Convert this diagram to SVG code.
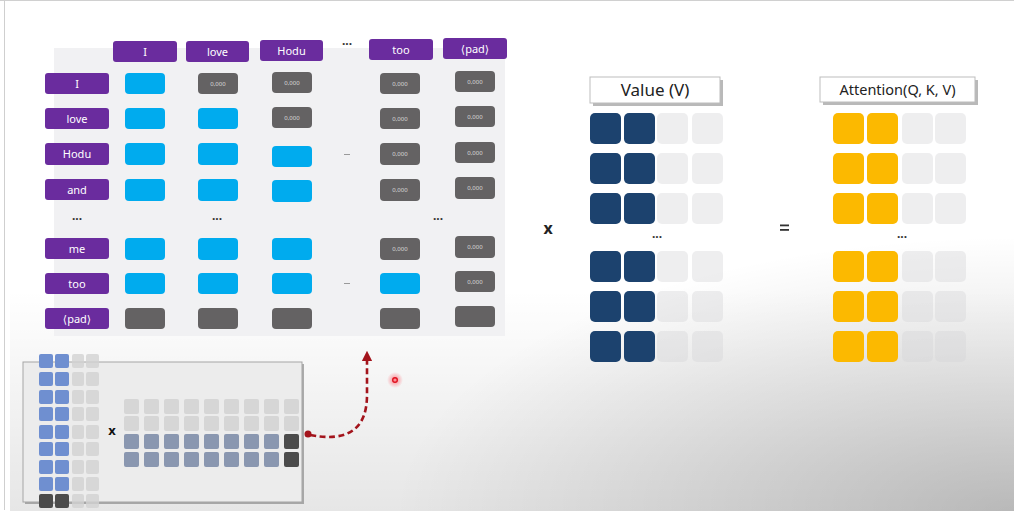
<svg xmlns="http://www.w3.org/2000/svg" width="1014" height="515" viewBox="0 0 1014 515">
<defs>
<style>
.lbl{fill:#6a2c9e}
.lt{font-family:"Noto Sans","DejaVu Sans",sans-serif;font-size:11px;fill:#fff;text-anchor:middle}
.bl{fill:#00abee}
.gy{fill:#646263}
.gt{font-family:"Noto Sans","DejaVu Sans",sans-serif;font-size:6px;fill:#d8d8d8;text-anchor:middle}
.dots{font-family:"Noto Sans","DejaVu Sans",sans-serif;font-size:12px;font-weight:bold;fill:#333;text-anchor:middle}
.dash{stroke:#9a9a9a;stroke-width:1}
.nv{fill:#1c426e}
.go{fill:#fcb900}
.lg{fill:#d4d4d8;fill-opacity:0.4}
.ttl{font-family:"Noto Sans","DejaVu Sans",sans-serif;fill:#222;text-anchor:middle}
.ib{fill:#6f8fd0}
.ig{fill:#d2d2d2;fill-opacity:0.8}
.ir{fill:#d6d6d6}
.ibg{fill:#8a97b0}
.idk{fill:#4b4b4b}
</style>
<radialGradient id="rg" gradientUnits="userSpaceOnUse" cx="1014" cy="515" r="620" gradientTransform="translate(1014 515) scale(1 0.45) translate(-1014 -515)">
<stop offset="0" stop-color="#000" stop-opacity="0.2"/>
<stop offset="1" stop-color="#000" stop-opacity="0"/>
</radialGradient>
<linearGradient id="vg" x1="0" y1="290" x2="0" y2="515" gradientUnits="userSpaceOnUse">
<stop offset="0" stop-color="#000" stop-opacity="0"/>
<stop offset="1" stop-color="#000" stop-opacity="0.1"/>
</linearGradient>
<radialGradient id="glow">
<stop offset="0" stop-color="#ff3b4a" stop-opacity="0.6"/>
<stop offset="1" stop-color="#ff3b4a" stop-opacity="0"/>
</radialGradient>
<marker id="ah" viewBox="0 0 10 10" refX="5" refY="5" markerWidth="4" markerHeight="4" orient="auto">
<path d="M0,0 L10,5 L0,10 Z" fill="#a3141c"/>
</marker>
</defs>

<g id="background">
<rect width="1014" height="515" fill="#fff"/>
<rect x="10" y="2" width="1004" height="509" fill="url(#vg)"/>
<rect x="10" y="2" width="1004" height="509" fill="url(#rg)"/>
<line x1="0" y1="0.5" x2="1014" y2="0.5" stroke="#d0d0d0"/>
<line x1="4.5" y1="0" x2="4.5" y2="510" stroke="#cfcfcf"/>
</g>

<g id="score-matrix">
<rect x="54" y="48" width="451" height="288" fill="#f1f1f3"/>
</g>

<g id="col-headers">
<g id="h-I"><rect class="lbl" x="113" y="41" width="64" height="21" rx="3"/><text class="lt" x="145" y="55.5">I</text></g>
<g id="h-love"><rect class="lbl" x="186" y="41" width="63" height="21" rx="3"/><text class="lt" x="217.5" y="55.5">love</text></g>
<g id="h-Hodu"><rect class="lbl" x="260" y="40" width="63" height="21" rx="3"/><text class="lt" x="291.5" y="54.5">Hodu</text></g>
<text class="dots" x="347" y="48">···</text>
<g id="h-too"><rect class="lbl" x="369" y="39" width="64" height="21" rx="3"/><text class="lt" x="401" y="53.5">too</text></g>
<g id="h-pad"><rect class="lbl" x="443" y="38" width="64" height="21" rx="3"/><text class="lt" x="475" y="52.5">⟨pad⟩</text></g>
</g>

<g id="row-labels">
<g id="r-I"><rect class="lbl" x="45" y="73" width="64" height="21" rx="3"/><text class="lt" x="77" y="87.5">I</text></g>
<g id="r-love"><rect class="lbl" x="45" y="108" width="64" height="21" rx="3"/><text class="lt" x="77" y="122.5">love</text></g>
<g id="r-Hodu"><rect class="lbl" x="45" y="143" width="64" height="22" rx="3"/><text class="lt" x="77" y="158">Hodu</text></g>
<g id="r-and"><rect class="lbl" x="45" y="179" width="64" height="21" rx="3"/><text class="lt" x="77" y="193.5">and</text></g>
<text class="dots" x="77" y="223">···</text>
<g id="r-me"><rect class="lbl" x="45" y="238" width="64" height="21" rx="3"/><text class="lt" x="77" y="252.5">me</text></g>
<g id="r-too"><rect class="lbl" x="45" y="273" width="64" height="21" rx="3"/><text class="lt" x="77" y="287.5">too</text></g>
<g id="r-pad"><rect class="lbl" x="45" y="308" width="64" height="21" rx="3"/><text class="lt" x="77" y="322.5">⟨pad⟩</text></g>
</g>

<g id="cells">
<rect class="bl" x="125" y="73" width="40" height="21" rx="4"/>
<rect class="gy" x="198" y="73" width="40" height="21" rx="4"/><text class="gt" x="218" y="86">0,000</text>
<rect class="gy" x="272" y="72" width="40" height="21" rx="4"/><text class="gt" x="292" y="85">0,000</text>
<rect class="gy" x="380" y="73" width="40" height="21" rx="4"/><text class="gt" x="400" y="86">0,000</text>
<rect class="gy" x="455" y="71" width="40" height="21" rx="4"/><text class="gt" x="475" y="84">0,000</text>
<rect class="bl" x="125" y="108" width="40" height="21" rx="4"/>
<rect class="bl" x="198" y="108" width="40" height="21" rx="4"/>
<rect class="gy" x="272" y="107" width="40" height="21" rx="4"/><text class="gt" x="292" y="120">0,000</text>
<rect class="gy" x="380" y="108" width="40" height="21" rx="4"/><text class="gt" x="400" y="121">0,000</text>
<rect class="gy" x="455" y="106" width="40" height="21" rx="4"/><text class="gt" x="475" y="119">0,000</text>
<rect class="bl" x="125" y="143" width="40" height="22" rx="4"/>
<rect class="bl" x="198" y="143" width="40" height="22" rx="4"/>
<rect class="bl" x="272" y="146" width="40" height="21" rx="4"/>
<line class="dash" x1="344" y1="154.5" x2="350" y2="154.5"/>
<rect class="gy" x="380" y="143" width="40" height="22" rx="4"/><text class="gt" x="400" y="156">0,000</text>
<rect class="gy" x="455" y="142" width="40" height="21" rx="4"/><text class="gt" x="475" y="155">0,000</text>
<rect class="bl" x="125" y="179" width="40" height="22" rx="4"/>
<rect class="bl" x="198" y="179" width="40" height="22" rx="4"/>
<rect class="bl" x="272" y="180" width="40" height="22" rx="4"/>
<rect class="gy" x="380" y="179" width="40" height="22" rx="4"/><text class="gt" x="400" y="192">0,000</text>
<rect class="gy" x="455" y="177" width="40" height="22" rx="4"/><text class="gt" x="475" y="190">0,000</text>
<text class="dots" x="217" y="223">···</text>
<text class="dots" x="438" y="223">···</text>
<rect class="bl" x="125" y="238" width="40" height="22" rx="4"/>
<rect class="bl" x="198" y="238" width="40" height="22" rx="4"/>
<rect class="bl" x="272" y="238" width="40" height="22" rx="4"/>
<rect class="gy" x="380" y="238" width="40" height="22" rx="4"/><text class="gt" x="400" y="251">0,000</text>
<rect class="gy" x="455" y="236" width="40" height="22" rx="4"/><text class="gt" x="475" y="249">0,000</text>
<rect class="bl" x="125" y="273" width="40" height="21" rx="4"/>
<rect class="bl" x="198" y="273" width="40" height="21" rx="4"/>
<rect class="bl" x="272" y="273" width="40" height="21" rx="4"/>
<line class="dash" x1="344" y1="283.5" x2="350" y2="283.5"/>
<rect class="bl" x="380" y="273" width="40" height="21" rx="4"/>
<rect class="gy" x="455" y="271" width="40" height="21" rx="4"/><text class="gt" x="475" y="284">0,000</text>
<rect class="gy" x="125" y="308" width="40" height="21" rx="4"/>
<rect class="gy" x="198" y="308" width="40" height="21" rx="4"/>
<rect class="gy" x="272" y="308" width="40" height="21" rx="4"/>
<rect class="gy" x="380" y="308" width="40" height="21" rx="4"/>
<rect class="gy" x="455" y="306" width="40" height="21" rx="4"/>
</g>

<g id="times">
<text x="548" y="234" font-family="Noto Sans, DejaVu Sans, sans-serif" font-size="16" font-weight="bold" fill="#222" text-anchor="middle">x</text>
</g>

<g id="value">
<rect x="593" y="80" width="130" height="26" fill="#8a8a8a" opacity="0.6"/>
<rect x="590" y="77" width="130" height="26" fill="#fff" stroke="#bdbdbd"/>
<text class="ttl" x="655" y="96" font-size="17">Value (V)</text>
<g>
<rect class="nv" x="590" y="113" width="31" height="31" rx="5"/><rect class="nv" x="624" y="113" width="31" height="31" rx="5"/><rect class="lg" x="657" y="113" width="31" height="31" rx="5"/><rect class="lg" x="692" y="113" width="31" height="31" rx="5"/>
<rect class="nv" x="590" y="153" width="31" height="31" rx="5"/><rect class="nv" x="624" y="153" width="31" height="31" rx="5"/><rect class="lg" x="657" y="153" width="31" height="31" rx="5"/><rect class="lg" x="692" y="153" width="31" height="31" rx="5"/>
<rect class="nv" x="590" y="193" width="31" height="31" rx="5"/><rect class="nv" x="624" y="193" width="31" height="31" rx="5"/><rect class="lg" x="657" y="193" width="31" height="31" rx="5"/><rect class="lg" x="692" y="193" width="31" height="31" rx="5"/>
<text class="dots" x="657" y="241">···</text>
<rect class="nv" x="590" y="251" width="31" height="31" rx="5"/><rect class="nv" x="624" y="251" width="31" height="31" rx="5"/><rect class="lg" x="657" y="251" width="31" height="31" rx="5"/><rect class="lg" x="692" y="251" width="31" height="31" rx="5"/>
<rect class="nv" x="590" y="291" width="31" height="31" rx="5"/><rect class="nv" x="624" y="291" width="31" height="31" rx="5"/><rect class="lg" x="657" y="291" width="31" height="31" rx="5"/><rect class="lg" x="692" y="291" width="31" height="31" rx="5"/>
<rect class="nv" x="590" y="331" width="31" height="31" rx="5"/><rect class="nv" x="624" y="331" width="31" height="31" rx="5"/><rect class="lg" x="657" y="331" width="31" height="31" rx="5"/><rect class="lg" x="692" y="331" width="31" height="31" rx="5"/>
</g>
</g>

<g id="equals">
<rect x="780" y="224.5" width="9" height="1.8" fill="#333"/>
<rect x="780" y="229" width="9" height="1.8" fill="#333"/>
</g>

<g id="attention">
<rect x="823" y="80" width="155" height="25" fill="#8a8a8a" opacity="0.6"/>
<rect x="820" y="77" width="155" height="25" fill="#fff" stroke="#bdbdbd"/>
<text class="ttl" x="897.5" y="95" font-size="14.5">Attention(Q, K, V)</text>
<g>
<rect class="go" x="833" y="113" width="31" height="31" rx="5"/><rect class="go" x="867" y="113" width="31" height="31" rx="5"/><rect class="lg" x="902" y="113" width="31" height="31" rx="5"/><rect class="lg" x="935" y="113" width="31" height="31" rx="5"/>
<rect class="go" x="833" y="153" width="31" height="31" rx="5"/><rect class="go" x="867" y="153" width="31" height="31" rx="5"/><rect class="lg" x="902" y="153" width="31" height="31" rx="5"/><rect class="lg" x="935" y="153" width="31" height="31" rx="5"/>
<rect class="go" x="833" y="193" width="31" height="31" rx="5"/><rect class="go" x="867" y="193" width="31" height="31" rx="5"/><rect class="lg" x="902" y="193" width="31" height="31" rx="5"/><rect class="lg" x="935" y="193" width="31" height="31" rx="5"/>
<text class="dots" x="902" y="241">···</text>
<rect class="go" x="833" y="251" width="31" height="31" rx="5"/><rect class="go" x="867" y="251" width="31" height="31" rx="5"/><rect class="lg" x="902" y="251" width="31" height="31" rx="5"/><rect class="lg" x="935" y="251" width="31" height="31" rx="5"/>
<rect class="go" x="833" y="291" width="31" height="31" rx="5"/><rect class="go" x="867" y="291" width="31" height="31" rx="5"/><rect class="lg" x="902" y="291" width="31" height="31" rx="5"/><rect class="lg" x="935" y="291" width="31" height="31" rx="5"/>
<rect class="go" x="833" y="331" width="31" height="31" rx="5"/><rect class="go" x="867" y="331" width="31" height="31" rx="5"/><rect class="lg" x="902" y="331" width="31" height="31" rx="5"/><rect class="lg" x="935" y="331" width="31" height="31" rx="5"/>
</g>
</g>

<g id="inset">
<rect x="25" y="364" width="279" height="140" fill="#8c8c8c" opacity="0.7"/>
<rect x="23" y="362" width="279" height="140" fill="#ececec" stroke="#a5a5a5" stroke-width="1"/>
<g id="inset-left">
<rect class="ib" x="39" y="354" width="14" height="14" rx="2"/><rect class="ib" x="55" y="354" width="14" height="14" rx="2"/><rect class="ig" x="72" y="354" width="12" height="14" rx="2"/><rect class="ig" x="86" y="354" width="13" height="14" rx="2"/>
<rect class="ib" x="39" y="372" width="14" height="14" rx="2"/><rect class="ib" x="55" y="372" width="14" height="14" rx="2"/><rect class="ig" x="72" y="372" width="12" height="14" rx="2"/><rect class="ig" x="86" y="372" width="13" height="14" rx="2"/>
<rect class="ib" x="39" y="390" width="14" height="14" rx="2"/><rect class="ib" x="55" y="390" width="14" height="14" rx="2"/><rect class="ig" x="72" y="390" width="12" height="14" rx="2"/><rect class="ig" x="86" y="390" width="13" height="14" rx="2"/>
<rect class="ib" x="39" y="407" width="14" height="14" rx="2"/><rect class="ib" x="55" y="407" width="14" height="14" rx="2"/><rect class="ig" x="72" y="407" width="12" height="14" rx="2"/><rect class="ig" x="86" y="407" width="13" height="14" rx="2"/>
<rect class="ib" x="39" y="425" width="14" height="14" rx="2"/><rect class="ib" x="55" y="425" width="14" height="14" rx="2"/><rect class="ig" x="72" y="425" width="12" height="14" rx="2"/><rect class="ig" x="86" y="425" width="13" height="14" rx="2"/>
<rect class="ib" x="39" y="442" width="14" height="14" rx="2"/><rect class="ib" x="55" y="442" width="14" height="14" rx="2"/><rect class="ig" x="72" y="442" width="12" height="14" rx="2"/><rect class="ig" x="86" y="442" width="13" height="14" rx="2"/>
<rect class="ib" x="39" y="460" width="14" height="14" rx="2"/><rect class="ib" x="55" y="460" width="14" height="14" rx="2"/><rect class="ig" x="72" y="460" width="12" height="14" rx="2"/><rect class="ig" x="86" y="460" width="13" height="14" rx="2"/>
<rect class="ib" x="39" y="477" width="14" height="14" rx="2"/><rect class="ib" x="55" y="477" width="14" height="14" rx="2"/><rect class="ig" x="72" y="477" width="12" height="14" rx="2"/><rect class="ig" x="86" y="477" width="13" height="14" rx="2"/>
<rect class="idk" x="39" y="494" width="14" height="14" rx="2"/><rect class="idk" x="55" y="494" width="14" height="14" rx="2"/><rect class="ig" x="72" y="494" width="12" height="14" rx="2"/><rect class="ig" x="86" y="494" width="13" height="14" rx="2"/>
</g>
<text x="112" y="435" font-family="Noto Sans, DejaVu Sans, sans-serif" font-size="13" font-weight="bold" fill="#111" text-anchor="middle">x</text>
<g id="inset-right">
<rect class="ir" x="124" y="399" width="15" height="15" rx="2"/><rect class="ir" x="144" y="399" width="15" height="15" rx="2"/><rect class="ir" x="164" y="399" width="15" height="15" rx="2"/><rect class="ir" x="184" y="399" width="15" height="15" rx="2"/><rect class="ir" x="204" y="399" width="15" height="15" rx="2"/><rect class="ir" x="224" y="399" width="15" height="15" rx="2"/><rect class="ir" x="244" y="399" width="15" height="15" rx="2"/><rect class="ir" x="264" y="399" width="15" height="15" rx="2"/><rect class="ir" x="284" y="399" width="15" height="15" rx="2"/>
<rect class="ir" x="124" y="416" width="15" height="15" rx="2"/><rect class="ir" x="144" y="416" width="15" height="15" rx="2"/><rect class="ir" x="164" y="416" width="15" height="15" rx="2"/><rect class="ir" x="184" y="416" width="15" height="15" rx="2"/><rect class="ir" x="204" y="416" width="15" height="15" rx="2"/><rect class="ir" x="224" y="416" width="15" height="15" rx="2"/><rect class="ir" x="244" y="416" width="15" height="15" rx="2"/><rect class="ir" x="264" y="416" width="15" height="15" rx="2"/><rect class="ir" x="284" y="416" width="15" height="15" rx="2"/>
<rect class="ibg" x="124" y="434" width="15" height="15" rx="2"/><rect class="ibg" x="144" y="434" width="15" height="15" rx="2"/><rect class="ibg" x="164" y="434" width="15" height="15" rx="2"/><rect class="ibg" x="184" y="434" width="15" height="15" rx="2"/><rect class="ibg" x="204" y="434" width="15" height="15" rx="2"/><rect class="ibg" x="224" y="434" width="15" height="15" rx="2"/><rect class="ibg" x="244" y="434" width="15" height="15" rx="2"/><rect class="ibg" x="264" y="434" width="15" height="15" rx="2"/><rect class="idk" x="284" y="434" width="15" height="15" rx="2"/>
<rect class="ibg" x="124" y="452" width="15" height="15" rx="2"/><rect class="ibg" x="144" y="452" width="15" height="15" rx="2"/><rect class="ibg" x="164" y="452" width="15" height="15" rx="2"/><rect class="ibg" x="184" y="452" width="15" height="15" rx="2"/><rect class="ibg" x="204" y="452" width="15" height="15" rx="2"/><rect class="ibg" x="224" y="452" width="15" height="15" rx="2"/><rect class="ibg" x="244" y="452" width="15" height="15" rx="2"/><rect class="ibg" x="264" y="452" width="15" height="15" rx="2"/><rect class="idk" x="284" y="452" width="15" height="15" rx="2"/>
</g>
</g>

<g id="connectors">
<circle cx="308" cy="434" r="3.5" fill="#a3141c"/>
<path d="M310 435 Q367 446 367 395 L367 356" fill="none" stroke="#a3141c" stroke-width="2.6" stroke-dasharray="6 3.5" marker-end="url(#ah)"/>
</g>

<g id="pointer">
<circle cx="395" cy="380" r="8" fill="url(#glow)"/>
<circle cx="395" cy="380" r="2.3" fill="none" stroke="#e0101e" stroke-width="1.4"/>
</g>
</svg>
